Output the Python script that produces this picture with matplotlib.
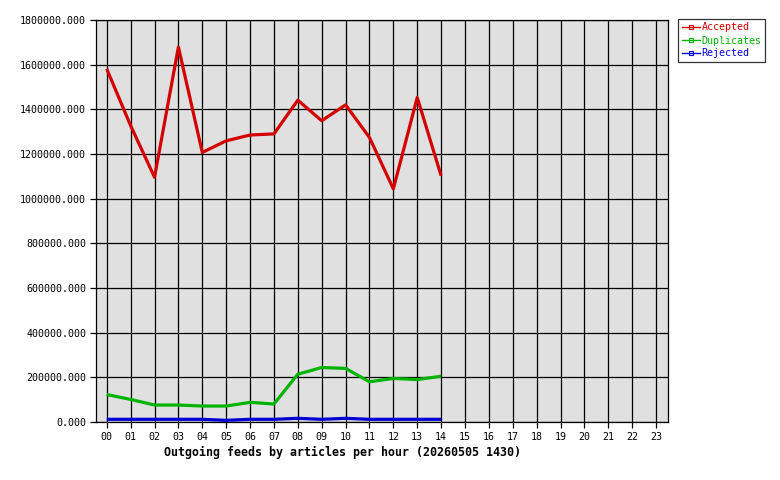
import matplotlib
matplotlib.use("Agg")
import matplotlib.pyplot as plt
from matplotlib.lines import Line2D

hours = ["00","01","02","03","04","05","06","07","08","09","10","11","12","13","14",
         "15","16","17","18","19","20","21","22","23"]
accepted = [1581000, 1327000, 1096000, 1679000, 1207000, 1259000, 1285000, 1290000,
            1441000, 1349000, 1420000, 1274000, 1044000, 1453000, 1103000]
duplicates = [123000, 101000, 76000, 76000, 71500, 71500, 88000, 80500,
              214000, 244000, 240000, 180000, 195000, 190000, 205000]
rejected = [12000, 12000, 12000, 12000, 12000, 7500, 12000, 12000,
            16500, 12000, 16500, 12000, 12000, 12000, 12000]
yticks = [0, 200000, 400000, 600000, 800000, 1000000, 1200000, 1400000, 1600000, 1800000]
title = "Outgoing feeds by articles per hour (20260505 1430)"

plt.rcParams["font.family"] = ["DejaVu Sans Mono"]
plt.rcParams["font.size"] = 7.2
plt.rcParams["xtick.labelsize"] = 7.2
plt.rcParams["ytick.labelsize"] = 7.2

fig = plt.figure(figsize=(7.8, 4.8), dpi=100)
fig.patch.set_facecolor("white")
ax = fig.add_axes([96/780, 58/480, (668-96)/780, (422-20)/480])
ax.set_facecolor("#e0e0e0")

colors = {"Accepted": "#d40000", "Duplicates": "#00b400", "Rejected": "#0000d4"}
xs = list(range(len(accepted)))
ax.plot(xs, accepted, color=colors["Accepted"], lw=2.3, zorder=3, solid_capstyle="butt")
ax.plot(xs, duplicates, color=colors["Duplicates"], lw=2.3, zorder=3, solid_capstyle="butt")
ax.plot(xs, rejected, color=colors["Rejected"], lw=2.3, zorder=3, solid_capstyle="butt")

ax.set_xlim(-0.45, 23.5)
ax.set_ylim(0, 1800000)
ax.set_xticks(range(len(hours)))
ax.set_xticklabels(hours)
ax.set_yticks(yticks)
ax.set_yticklabels([f"{v}.000" for v in yticks])
ax.grid(True, color="black", lw=0.9, zorder=1)
ax.set_axisbelow(True)
ax.tick_params(axis="both", direction="out", length=4, width=0.9, color="black",
               pad=3, labelsize=7.2)
for s in ax.spines.values():
    s.set_color("black")
    s.set_linewidth(0.9)

fig.text(343/780, 1 - 452/480, title, ha="center", va="center",
         fontsize=8.4, fontweight="bold")

handles = [Line2D([0], [0], color=c, lw=1, marker="s", markersize=2.5,
                  markerfacecolor="none", markeredgecolor=c, markeredgewidth=0.8)
           for c in colors.values()]
leg = fig.legend(handles, list(colors.keys()), loc="upper left",
                 bbox_to_anchor=(678/780, 1 - 19/480), frameon=True, fancybox=False,
                 prop={"size": 7.2}, handlelength=1.8, handletextpad=0.2,
                 borderpad=0.35, labelspacing=0.3, borderaxespad=0)
leg.get_frame().set_edgecolor("black")
leg.get_frame().set_linewidth(0.9)
for t, c in zip(leg.get_texts(), colors.values()):
    t.set_color(c)

fig.savefig("out.png", dpi=100, facecolor="white")
